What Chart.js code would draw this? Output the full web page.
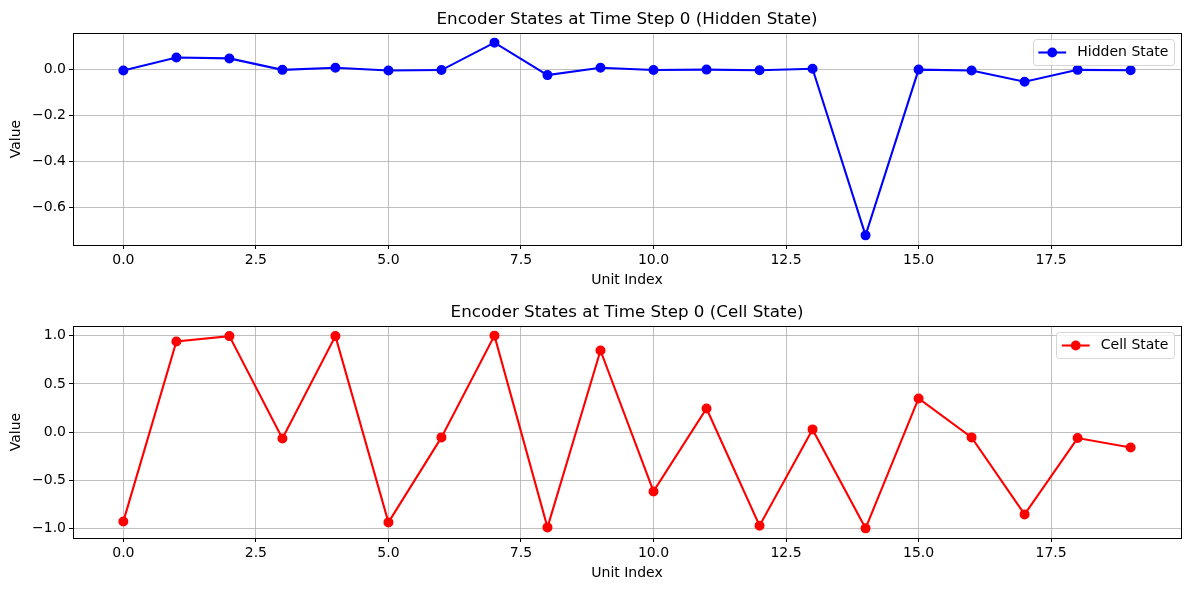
<!DOCTYPE html>
<html>
<head>
<meta charset="utf-8">
<script src="https://cdn.jsdelivr.net/npm/chart.js@4.4.0/dist/chart.umd.min.js"></script>
<style>
  html, body { margin: 0; padding: 0; background: #fff; }
  #page { position: relative; width: 1189px; height: 590px; }
  .panel { position: absolute; left: 0; width: 1189px; }
  #top { top: 0; height: 293px; }
  #bottom { top: 293px; height: 297px; }
</style>
</head>
<body>
<div id="page">
  <div class="panel" id="top"><canvas id="hiddenChart"></canvas></div>
  <div class="panel" id="bottom"><canvas id="cellChart"></canvas></div>
</div>
<script>
// values
const unitIndex = [0, 1, 2, 3, 4, 5, 6, 7, 8, 9, 10, 11, 12, 13, 14, 15, 16, 17, 18, 19];
const hiddenState = [-0.003, 0.054, 0.050, 0.000, 0.009, -0.003, -0.001, 0.119, -0.023, 0.009,
                     -0.001, 0.001, -0.002, 0.005, -0.724, 0.001, -0.003, -0.052, 0.000, -0.002];
const cellState = [-0.926, 0.940, 0.995, -0.066, 0.995, -0.936, -0.055, 1.000, -0.988, 0.846,
                   -0.615, 0.245, -0.970, 0.028, -0.998, 0.349, -0.055, -0.853, -0.062, -0.159];
const xTicks = [0, 2.5, 5, 7.5, 10, 12.5, 15, 17.5];
const hiddenTicks = [-0.6, -0.4, -0.2, 0.0];
const cellTicks = [-1.0, -0.5, 0.0, 0.5, 1.0];

Chart.defaults.font.family = "'DejaVu Sans', sans-serif";
Chart.defaults.font.size = 14;
Chart.defaults.color = "#000";

const fmt = (v) => Number(v).toFixed(1).replace("-", "\u2212");

// matplotlib-like 5% margins around the data
function padRange(vals) {
  const lo = Math.min(...vals);
  const hi = Math.max(...vals);
  const m = (hi - lo) * 0.05;
  return [lo - m, hi + m];
}

// black box round the plot area
const frame = {
  id: "frame",
  afterDatasetsDraw(chart) {
    const { ctx, chartArea: a } = chart;
    ctx.save();
    ctx.strokeStyle = "#000";
    ctx.lineWidth = 1;
    ctx.strokeRect(Math.round(a.left) + 0.5, Math.round(a.top) + 0.5,
      Math.round(a.right - a.left), Math.round(a.bottom - a.top));
    ctx.restore();
  },
};

const panelTitle = {
  id: "panelTitle",
  afterDraw(chart, args, opts) {
    const { ctx, chartArea: a } = chart;
    ctx.save();
    ctx.font = "16.7px 'DejaVu Sans', sans-serif";
    ctx.fillStyle = "#000";
    ctx.textAlign = "center";
    ctx.textBaseline = "alphabetic";
    ctx.fillText(opts.text, (a.left + a.right) / 2, a.top - 9);
    ctx.restore();
  },
};

// legend box in the upper right corner, drawn like matplotlib's
const boxLegend = {
  id: "boxLegend",
  afterDraw(chart) {
    const { ctx, chartArea: a } = chart;
    const ds = chart.data.datasets[0];
    const fs = 13.9;
    ctx.save();
    ctx.font = "14px 'DejaVu Sans', sans-serif";
    const tw = ctx.measureText(ds.label).width;
    const w = fs * 0.4 + fs * 2 + fs * 0.8 + tw + fs * 0.4;
    const h = 26;
    const right = a.right - 7;
    const left = right - w;
    const top = a.top + 6;
    ctx.beginPath();
    ctx.roundRect(Math.round(left) + 0.5, Math.round(top) + 0.5, Math.round(w), h, 3);
    ctx.fillStyle = "rgba(255,255,255,0.8)";
    ctx.fill();
    ctx.strokeStyle = "rgba(204,204,204,0.8)";
    ctx.lineWidth = 1;
    ctx.stroke();
    const cy = top + h / 2 + 0.5;
    const hx = left + fs * 0.4;
    ctx.strokeStyle = ds.borderColor;
    ctx.lineWidth = 2.1;
    ctx.beginPath();
    ctx.moveTo(hx, cy);
    ctx.lineTo(hx + fs * 2, cy);
    ctx.stroke();
    ctx.fillStyle = ds.borderColor;
    ctx.beginPath();
    ctx.arc(hx + fs, cy, 4.9, 0, Math.PI * 2);
    ctx.fill();
    ctx.fillStyle = "#000";
    ctx.textBaseline = "middle";
    ctx.fillText(ds.label, hx + fs * 2 + fs * 0.8, cy);
    ctx.restore();
  },
};

function makeChart(id, values, yTicks, color, label, title, pad) {
  const points = unitIndex.map((x, i) => ({ x: x, y: values[i] }));
  const [xMin, xMax] = padRange(unitIndex);
  const [yMin, yMax] = padRange(values);
  const grid = {
    color: "#b0b0b0",
    lineWidth: 0.8,
    drawTicks: true,
    tickLength: 4,
    tickColor: "#000",
    tickWidth: 1,
  };
  return new Chart(document.getElementById(id), {
    type: "line",
    data: {
      datasets: [
        {
          label: label,
          data: points,
          borderColor: color,
          backgroundColor: color,
          borderWidth: 2.1,
          pointRadius: 4.3,
          pointHoverRadius: 4.3,
          pointBorderWidth: 1.4,
          pointBackgroundColor: color,
          pointBorderColor: color,
          tension: 0,
          clip: false,
        },
      ],
    },
    options: {
      animation: false,
      responsive: true,
      maintainAspectRatio: false,
      events: [],
      layout: { padding: { top: pad.top, right: 8, bottom: pad.bottom, left: 0 } },
      plugins: {
        legend: { display: false },
        tooltip: { enabled: false },
        panelTitle: { text: title },
      },
      scales: {
        x: {
          type: "linear",
          min: xMin,
          max: xMax,
          afterBuildTicks: (s) => { s.ticks = xTicks.map((v) => ({ value: v })); },
          afterFit: (s) => { s.height = 48; },
          grid: grid,
          border: { display: false },
          ticks: { padding: 3, maxRotation: 0, autoSkip: false, callback: fmt },
          title: { display: true, text: "Unit Index", padding: { top: 0, bottom: 4.6 } },
        },
        y: {
          type: "linear",
          min: yMin,
          max: yMax,
          afterBuildTicks: (s) => { s.ticks = yTicks.map((v) => ({ value: v })); },
          afterFit: (s) => { s.width = pad.yWidth; },
          grid: grid,
          border: { display: false },
          ticks: { padding: 3, autoSkip: false, callback: fmt },
          title: { display: true, text: "Value", padding: { top: 7.6, bottom: 0 } },
        },
      },
    },
    plugins: [frame, panelTitle, boxLegend],
  });
}

makeChart("hiddenChart", hiddenState, hiddenTicks, "#0000ff", "Hidden State",
  "Encoder States at Time Step 0 (Hidden State)", { top: 33, bottom: 0, yWidth: 73 });
makeChart("cellChart", cellState, cellTicks, "#ff0000", "Cell State",
  "Encoder States at Time Step 0 (Cell State)", { top: 33, bottom: 4, yWidth: 73 });
</script>
</body>
</html>
